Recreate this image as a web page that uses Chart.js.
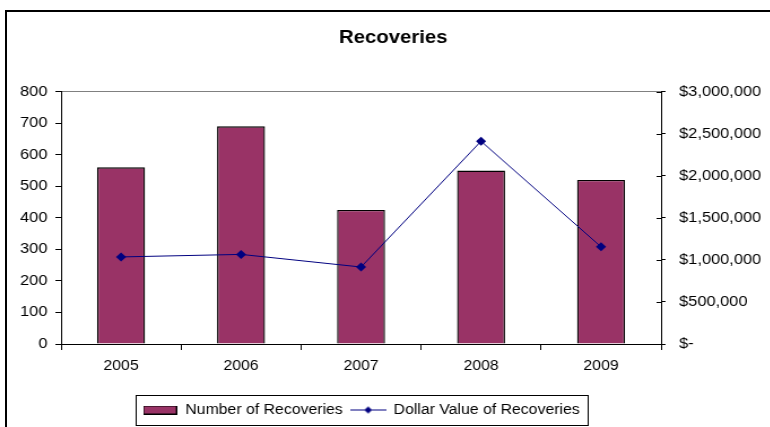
<!DOCTYPE html>
<html>
<head>
<meta charset="utf-8">
<script src="https://cdn.jsdelivr.net/npm/chart.js@4/dist/chart.umd.min.js"></script>
<style>
    html, body { margin: 0; padding: 0; overflow: hidden; background: #fff; }
    #wrap { position: relative; width: 770px; height: 427px; overflow: hidden; }
    #chart { position: absolute; left: 0; top: 0; transform: scaleX(1.13); transform-origin: 0 0; }
    #frame { position: absolute; left: 5px; top: 10px; width: 900px; height: 600px;
             border-left: 2px solid #000; border-top: 2px solid #000; pointer-events: none; }
</style>
</head>
<body>
<div id="wrap">
    <canvas id="chart" width="696" height="427"></canvas>
    <div id="frame"></div>
</div>
<script>
const years = ['2005', '2006', '2007', '2008', '2009'];
const recoveryCounts = [560, 690, 425, 550, 520];
const recoveryDollars = [1035000, 1065000, 915000, 2410000, 1155000];
const countAxis = [0, 800, 100];
const dollarAxis = [0, 3000000, 500000];

const font = "'Liberation Sans', Arial, sans-serif";
const barColor = '#993366';
const lineColor = '#000080';

// small swatches for the legend
function barSwatch() {
    const c = document.createElement('canvas');
    c.width = 30; c.height = 9;
    const g = c.getContext('2d');
    g.fillStyle = barColor;
    g.fillRect(0.5, 0.5, 29, 8);
    g.strokeStyle = '#000';
    g.lineWidth = 1;
    g.strokeRect(0.5, 0.5, 29, 8);
    return c;
}

function lineSwatch() {
    const c = document.createElement('canvas');
    c.width = 32; c.height = 9;
    const g = c.getContext('2d');
    g.strokeStyle = lineColor;
    g.lineWidth = 1;
    g.beginPath();
    g.moveTo(0, 4.5); g.lineTo(32, 4.5);
    g.stroke();
    g.fillStyle = lineColor;
    g.beginPath();
    g.moveTo(16, 1); g.lineTo(19.5, 4.5); g.lineTo(16, 8); g.lineTo(12.5, 4.5);
    g.closePath();
    g.fill();
    return c;
}

const swatches = [barSwatch(), lineSwatch()];

// box round the legend and inward tick marks on the dollar axis
const extras = {
    id: 'extras',
    afterDraw(chart) {
        const ctx = chart.ctx;
        const hb = chart.legend.legendHitBoxes;
        if (hb && hb.length) {
            const left = hb[0].left - 6;
            const last = hb[hb.length - 1];
            const right = last.left + last.width + 7;
            const mid = hb[0].top + hb[0].height / 2;
            ctx.save();
            ctx.strokeStyle = '#000';
            ctx.lineWidth = 1;
            ctx.strokeRect(Math.round(left) + 0.5, Math.round(mid - 15) + 0.5, Math.round(right - left), 30);
            ctx.restore();
        }
        const s = chart.scales.y1;
        const x = chart.chartArea.right;
        ctx.save();
        ctx.strokeStyle = '#000';
        ctx.lineWidth = 1;
        ctx.beginPath();
        s.ticks.forEach((t, i) => {
            const y = Math.round(s.getPixelForTick(i)) + 0.5;
            ctx.moveTo(x - 4, y);
            ctx.lineTo(x, y);
        });
        ctx.stroke();
        ctx.restore();
    }
};

new Chart(document.getElementById('chart'), {
    data: {
        labels: years,
        datasets: [{
            type: 'bar',
            label: 'Number of Recoveries',
            data: recoveryCounts,
            yAxisID: 'y',
            backgroundColor: barColor,
            borderColor: '#000',
            borderWidth: 1.4,
            barPercentage: 0.4,
            categoryPercentage: 1,
            order: 1
        }, {
            type: 'line',
            label: 'Dollar Value of Recoveries',
            data: recoveryDollars,
            yAxisID: 'y1',
            borderColor: lineColor,
            backgroundColor: lineColor,
            borderWidth: 1,
            pointStyle: 'rectRot',
            pointRadius: 4.5,
            pointBorderWidth: 0,
            tension: 0,
            order: 0
        }]
    },
    options: {
        responsive: false,
        animation: false,
        layout: { padding: { top: 0, bottom: 0, left: 0, right: 0 } },
        plugins: {
            title: {
                display: true,
                text: 'Recoveries',
                color: '#000',
                font: { family: font, size: 18, weight: 'bold' },
                padding: { top: 27, bottom: 43 }
            },
            legend: {
                position: 'bottom',
                fullSize: false,
                labels: {
                    color: '#000',
                    font: { family: font, size: 14 },
                    usePointStyle: true,
                    pointStyleWidth: 31,
                    padding: 7,
                    generateLabels(chart) {
                        const items = Chart.defaults.plugins.legend.labels.generateLabels(chart);
                        items.sort((a, b) => a.datasetIndex - b.datasetIndex);
                        items.forEach(it => { it.pointStyle = swatches[it.datasetIndex]; });
                        return items;
                    }
                }
            },
            tooltip: { enabled: false }
        },
        scales: {
            x: {
                afterFit: s => { s.height = 52; },
                grid: { offset: true, drawOnChartArea: false, tickLength: 6, color: '#000' },
                border: { color: '#000' },
                ticks: { color: '#000', padding: 8, font: { family: font, size: 14 } }
            },
            y: {
                position: 'left',
                min: countAxis[0],
                max: countAxis[1],
                afterFit: s => { s.width = 54; },
                grid: {
                    color: c => c.tick && c.tick.value === countAxis[1] ? '#808080' : 'rgba(0,0,0,0)',
                    tickColor: '#000',
                    tickLength: 5
                },
                border: { color: '#000' },
                ticks: { stepSize: countAxis[2], color: '#000', padding: 7, font: { family: font, size: 14.5 } }
            },
            y1: {
                position: 'right',
                min: dollarAxis[0],
                max: dollarAxis[1],
                afterFit: s => { s.width = 111; },
                grid: { drawOnChartArea: false, tickLength: 4, color: '#000' },
                border: { color: '#000' },
                ticks: {
                    stepSize: dollarAxis[2],
                    color: '#000',
                    padding: 12,
                    font: { family: font, size: 14.5 },
                    callback: v => v === 0 ? '$-' : '$' + v.toLocaleString('en-US')
                }
            }
        }
    },
    plugins: [extras]
});
</script>
</body>
</html>
